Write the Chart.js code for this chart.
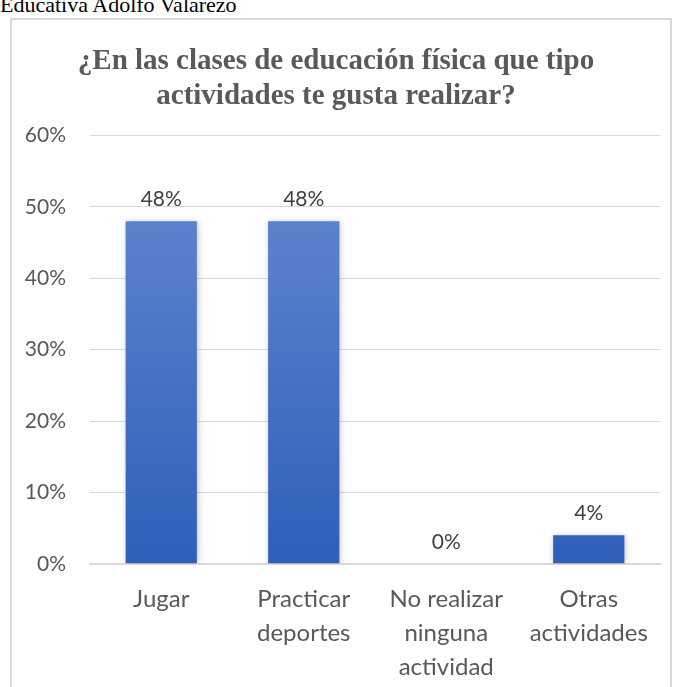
<!DOCTYPE html>
<html>
<head>
<meta charset="utf-8">
<script src="https://cdn.jsdelivr.net/npm/chart.js@4/dist/chart.umd.min.js"></script>
<style>
  html, body { margin: 0; padding: 0; background: #fff; }
  body { width: 676px; height: 687px; position: relative; overflow: hidden; }
  #caption {
    position: absolute; left: 0; top: -8px;
    font: 22px "Liberation Serif", "Times New Roman", serif; color: #000;
  }
  #box {
    position: absolute; left: 10px; top: 18px; width: 662px; height: 680px;
    border: 2px solid #d9d9d9; box-sizing: border-box;
  }
  #box canvas { position: absolute; left: 0; top: 0; }
</style>
</head>
<body>
<div id="caption">Educativa Adolfo Valarezo</div>
<div id="box"><canvas id="chart" width="658" height="676"></canvas></div>
<script>
const categories = [
  ["Jugar"],
  ["Practicar", "deportes"],
  ["No realizar", "ninguna", "actividad"],
  ["Otras", "actividades"]
];
const percentages = [48, 48, 0, 4];
const yTicks = [0, 10, 20, 30, 40, 50, 60];

// values printed above each bar
const barLabels = {
  id: "barLabels",
  afterDatasetsDraw(chart) {
    const ctx = chart.ctx;
    const meta = chart.getDatasetMeta(0);
    ctx.save();
    ctx.font = "21px Lato, 'Open Sans', sans-serif";
    ctx.fillStyle = "#404040";
    ctx.textAlign = "center";
    ctx.textBaseline = "bottom";
    meta.data.forEach((bar, i) => {
      ctx.fillText(percentages[i] + "%", bar.x, bar.y - 11);
    });
    ctx.restore();
  }
};

// soft shadow under the bars
const barShadow = {
  id: "barShadow",
  beforeDatasetsDraw(chart) {
    const ctx = chart.ctx;
    ctx.save();
    ctx.shadowColor = "rgba(0,0,0,0.25)";
    ctx.shadowBlur = 6;
    ctx.shadowOffsetX = 1;
    ctx.shadowOffsetY = 1;
  },
  afterDatasetsDraw(chart) {
    chart.ctx.restore();
  }
};

function barGradient(context) {
  const area = context.chart.chartArea;
  if (!area) return "#4472c4";
  const y0 = context.chart.scales.y.getPixelForValue(48);
  const g = context.chart.ctx.createLinearGradient(0, y0, 0, area.bottom);
  g.addColorStop(0, "#5b82cb");
  g.addColorStop(1, "#2f5fbb");
  return g;
}

new Chart(document.getElementById("chart"), {
  type: "bar",
  data: {
    labels: categories,
    datasets: [{
      data: percentages,
      backgroundColor: barGradient,
      categoryPercentage: 1,
      barPercentage: 0.5
    }]
  },
  options: {
    responsive: false,
    animation: false,
    layout: { padding: { left: 0, right: 10, top: 0, bottom: 2 } },
    plugins: {
      legend: { display: false },
      tooltip: { enabled: false },
      title: {
        display: true,
        text: ["¿En las clases de educación física que tipo", "actividades te gusta realizar?"],
        color: "#595959",
        font: { family: "'Liberation Serif', 'Times New Roman', serif", size: 29, weight: "bold", lineHeight: 1.2 },
        padding: { top: 24, bottom: 22 }
      }
    },
    scales: {
      x: {
        grid: { display: false },
        border: { color: "#d9d9d9", width: 2 },
        ticks: {
          color: "#595959",
          font: { family: "Lato, 'Open Sans', sans-serif", size: 24, lineHeight: 1.42 },
          maxRotation: 0,
          autoSkip: false,
          padding: 10
        }
      },
      y: {
        min: 0,
        max: 60,
        afterBuildTicks(axis) { axis.ticks = yTicks.map(v => ({ value: v })); },
        afterFit(axis) { axis.width = 78; },
        grid: { color: "#d9d9d9", lineWidth: 1, drawTicks: false },
        border: { display: false },
        ticks: {
          color: "#595959",
          font: { family: "Lato, 'Open Sans', sans-serif", size: 21 },
          padding: 24,
          callback: v => v + "%"
        }
      }
    }
  },
  plugins: [barShadow, barLabels]
});
</script>
</body>
</html>
